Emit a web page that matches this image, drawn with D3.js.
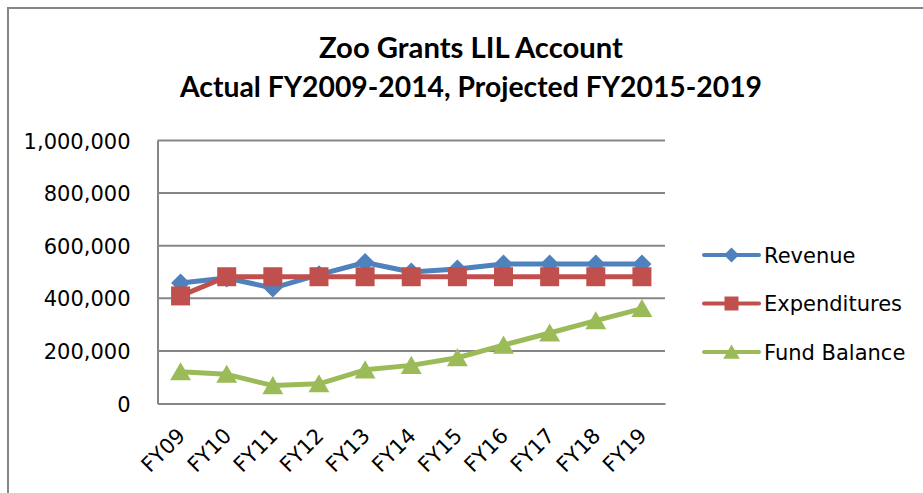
<!DOCTYPE html>
<html>
<head>
<meta charset="utf-8">
<script src="https://cdn.jsdelivr.net/npm/d3@7"></script>
<style>
  html, body { margin: 0; padding: 0; background: #fff; }
  svg { display: block; }
</style>
</head>
<body>
<svg id="chart" width="923" height="493"></svg>
<script>
const titleLines = ["Zoo Grants LIL Account", "Actual FY2009-2014, Projected FY2015-2019"];
const categories = ["FY09","FY10","FY11","FY12","FY13","FY14","FY15","FY16","FY17","FY18","FY19"];
const revenue      = [458000, 477000, 439000, 490000, 536000, 500000, 511000, 530000, 530000, 530000, 530000];
const expenditures = [409000, 482000, 482000, 482000, 482000, 482000, 482000, 482000, 482000, 482000, 482000];
const fundBalance  = [121000, 111000, 68000, 75000, 128000, 145000, 174000, 222000, 268000, 315000, 361000];
const seriesNames  = ["Revenue", "Expenditures", "Fund Balance"];
const yTicks = [0, 200000, 400000, 600000, 800000, 1000000];

const series = [
  { name: seriesNames[0], values: revenue,      color: "#4F81BD", marker: "diamond" },
  { name: seriesNames[1], values: expenditures, color: "#C0504D", marker: "square" },
  { name: seriesNames[2], values: fundBalance,  color: "#9BBB59", marker: "triangle" }
];

const svg = d3.select("#chart");
const W = 923, H = 493;
const plot = { left: 157.5, right: 665, top: 140.5, bottom: 403.5 };
const grey = "#868686";
const labelFont = "DejaVu Sans, sans-serif";
const labelSize = 21;

// outer chart border (right/bottom edges run off the picture)
svg.append("rect").attr("x", 8).attr("y", 8).attr("width", W + 20).attr("height", H + 20)
  .attr("fill", "#fff").attr("stroke", grey).attr("stroke-width", 2);

// title
const titleG = svg.append("g");
const titleWidths = [304, 582];
titleLines.forEach((t, i) => {
  titleG.append("text")
    .attr("x", 471).attr("y", 58 + i * 39)
    .attr("text-anchor", "middle")
    .attr("font-family", "Lato, sans-serif").attr("font-weight", "bold")
    .attr("font-size", 28).attr("fill", "#000")
    .attr("textLength", titleWidths[i]).attr("lengthAdjust", "spacingAndGlyphs")
    .text(t);
});

const x = d3.scaleBand().domain(categories).range([plot.left, plot.right]).padding(0);
const y = d3.scaleLinear().domain([0, 1000000]).range([plot.bottom, plot.top]);
const cx = c => x(c) + x.bandwidth() / 2;

// gridlines
svg.append("g").selectAll("line").data(yTicks.filter(d => d > 0)).join("line")
  .attr("x1", plot.left).attr("x2", plot.right)
  .attr("y1", d => y(d)).attr("y2", d => y(d))
  .attr("stroke", grey).attr("stroke-width", 2);

// y axis
const yAxis = svg.append("g").attr("transform", `translate(${plot.left},0)`)
  .call(d3.axisLeft(y).tickValues(yTicks).tickSize(0).tickPadding(27)
    .tickFormat(d3.format(",")));
yAxis.select(".domain").attr("stroke", grey).attr("stroke-width", 2);
yAxis.selectAll("text").attr("font-family", labelFont).attr("font-size", labelSize).attr("fill", "#000")
  .attr("dy", "0.36em");

// x axis
const xAxis = svg.append("g").attr("transform", `translate(0,${plot.bottom})`)
  .call(d3.axisBottom(x).tickSize(0).tickFormat(d => d));
xAxis.select(".domain").attr("stroke", grey).attr("stroke-width", 2);
xAxis.selectAll(".tick text")
  .attr("font-family", labelFont).attr("font-size", labelSize).attr("fill", "#000")
  .attr("text-anchor", "end")
  .attr("x", 0).attr("y", 0).attr("dy", 0)
  .attr("transform", "translate(6,33.5) rotate(-45)");

// marker shapes
function markerPath(type, s) {
  if (type === "diamond") return `M0,${-s}L${s},0L0,${s}L${-s},0Z`;
  if (type === "square") return `M${-s},${-s}H${s}V${s}H${-s}Z`;
  // triangle (bbox centred)
  return `M0,${-s}L${s * 1.1},${s * 0.9}L${-s * 1.1},${s * 0.9}Z`;
}
const markerSize = { diamond: 9.5, square: 9.5, triangle: 9.5 };

const line = d3.line().x((d, i) => cx(categories[i])).y(d => y(d));

series.forEach(s => {
  const g = svg.append("g");
  g.append("path").datum(s.values).attr("d", line)
    .attr("fill", "none").attr("stroke", s.color).attr("stroke-width", 5)
    .attr("stroke-linejoin", "round").attr("stroke-linecap", "round");
  g.selectAll("path.m").data(s.values).join("path").attr("class", "m")
    .attr("transform", (d, i) => `translate(${cx(categories[i])},${y(d)})`)
    .attr("d", markerPath(s.marker, markerSize[s.marker]))
    .attr("fill", s.color);
});

// legend
const legendY = [255, 303.5, 352];
series.forEach((s, i) => {
  const g = svg.append("g").attr("transform", `translate(0,${legendY[i]})`);
  g.append("line").attr("x1", 704).attr("x2", 759).attr("y1", 0).attr("y2", 0)
    .attr("stroke", s.color).attr("stroke-width", 4).attr("stroke-linecap", "round");
  g.append("path").attr("transform", "translate(731.5,0)")
    .attr("d", markerPath(s.marker, s.marker === "square" ? 7 : 7.5))
    .attr("fill", s.color);
  g.append("text").attr("x", 764).attr("y", 7.6)
    .attr("font-family", labelFont).attr("font-size", labelSize).attr("fill", "#000")
    .text(s.name);
});
</script>
</body>
</html>
